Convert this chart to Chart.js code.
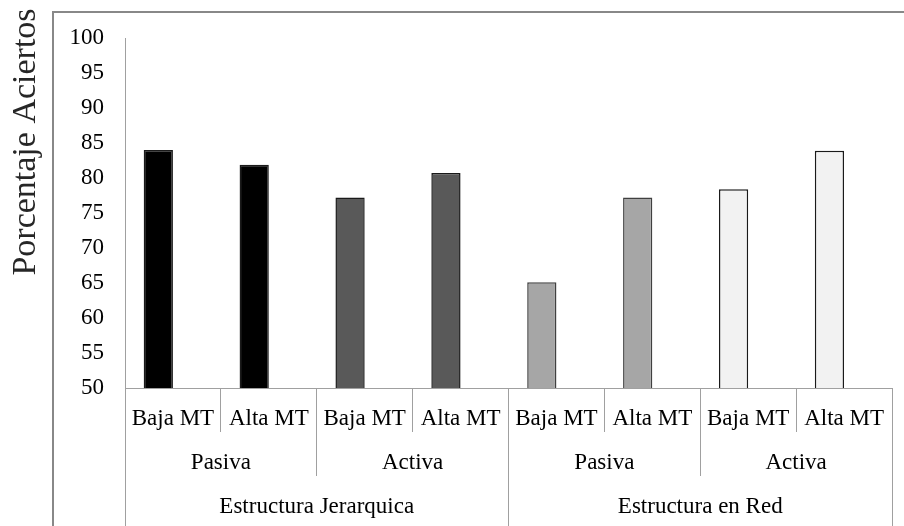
<!DOCTYPE html>
<html>
<head>
<meta charset="utf-8">
<script src="https://cdn.jsdelivr.net/npm/chart.js@4"></script>
<style>
    html, body { margin: 0; padding: 0; background: #fff; }
    #wrap { width: 904px; height: 526px; }
</style>
</head>
<body>
<div id="wrap"><canvas id="chart" width="904" height="526"></canvas></div>
<script>
// ===== DATA =====
const nivelMT = ["Baja MT", "Alta MT", "Baja MT", "Alta MT", "Baja MT", "Alta MT", "Baja MT", "Alta MT"];
const nivelModo = ["Pasiva", "Activa", "Pasiva", "Activa"];
const nivelEstructura = ["Estructura Jerarquica", "Estructura en Red"];
const aciertos = [84.0, 81.9, 77.2, 80.7, 65.1, 77.2, 78.4, 83.9];
// second (empty) series of the original chart, it only takes its slot
const serieVacia = [null, null, null, null, null, null, null, null];
const yTicks = { min: 50, max: 100, step: 5 };

const barColors = ["#000000", "#000000", "#595959", "#595959", "#a6a6a6", "#a6a6a6", "#f2f2f2", "#f2f2f2"];
const barBorders = ["#1a1a1a", "#1a1a1a", "#1a1a1a", "#1a1a1a", "#404040", "#404040", "#1a1a1a", "#1a1a1a"];

const FONT = "'Liberation Serif', 'Times New Roman', serif";
const LINE = "#a0a0a0";

// frame + rotated y title
const decor = {
    id: "decor",
    afterDraw(chart) {
        const ctx = chart.ctx;
        ctx.save();
        ctx.strokeStyle = "#888888";
        ctx.lineWidth = 2;
        ctx.strokeRect(53, 12, 904, 600);

        ctx.translate(26, 142);
        ctx.rotate(-Math.PI / 2);
        ctx.fillStyle = "#262626";
        ctx.font = "34px " + FONT;
        ctx.textAlign = "center";
        ctx.textBaseline = "middle";
        ctx.fillText("Porcentaje Aciertos", 0, 0);
        ctx.restore();
    }
};

function bottomAxis(labels, weight, rowHeight, pad, showBorder) {
    return {
        type: "category",
        labels: labels,
        position: "bottom",
        weight: weight,
        offset: true,
        grid: {
            offset: true,
            drawOnChartArea: false,
            drawTicks: true,
            tickLength: rowHeight,
            color: LINE,
            lineWidth: 1
        },
        border: { display: showBorder, color: LINE, width: 1 },
        ticks: {
            color: "#000",
            font: { family: FONT, size: 23 },
            padding: pad,
            maxRotation: 0,
            autoSkip: false
        },
        afterFit: (scale) => { scale.height = rowHeight; }
    };
}

new Chart(document.getElementById("chart"), {
    type: "bar",
    data: {
        labels: nivelMT,
        datasets: [
            {
                data: aciertos,
                backgroundColor: barColors,
                borderColor: barBorders,
                borderWidth: 1.5,
                categoryPercentage: 0.61,
                barPercentage: 1
            },
            {
                data: serieVacia,
                categoryPercentage: 0.61,
                barPercentage: 1
            }
        ]
    },
    plugins: [decor],
    options: {
        responsive: false,
        animation: false,
        layout: { padding: { left: 0, top: 38, right: 12, bottom: 0 } },
        plugins: {
            legend: { display: false },
            tooltip: { enabled: false }
        },
        scales: {
            x: Object.assign(bottomAxis(nivelMT, 0, 44, -27, true), { labels: undefined }),
            x2: bottomAxis(nivelModo, 1, 44, -27, false),
            x3: bottomAxis(nivelEstructura, 2, 50, -33, false),
            y: {
                min: yTicks.min,
                max: yTicks.max,
                grid: { display: true, drawOnChartArea: false, drawTicks: false },
                border: { display: true, color: LINE, width: 1 },
                ticks: {
                    stepSize: yTicks.step,
                    color: "#000",
                    padding: 21,
                    font: { family: FONT, size: 23 }
                },
                afterFit: (scale) => { scale.width = 125; }
            }
        }
    }
});
</script>
</body>
</html>
